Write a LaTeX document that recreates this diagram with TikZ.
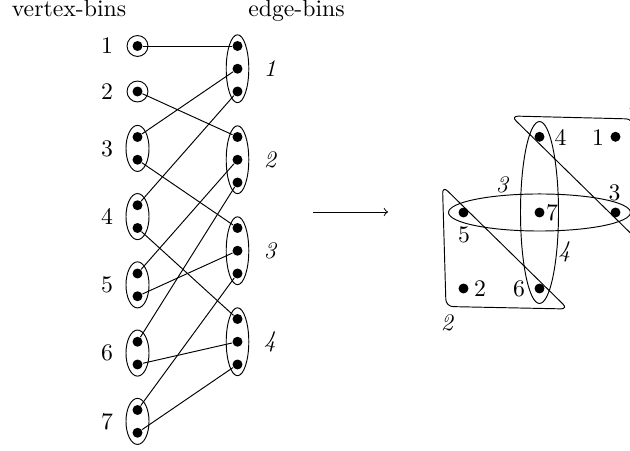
\documentclass[tikz,border=0pt]{standalone}
\usetikzlibrary{shapes.geometric}
\begin{document}
\begin{tikzpicture}[x=0.42105pt,y=-0.42105pt,
  dot/.style={circle,fill,inner sep=0pt,minimum size=4.2pt},
  vone/.style={circle,draw,inner sep=0pt,minimum size=8.8pt},
  vtwo/.style={ellipse,draw,inner sep=0pt,minimum width=9.7pt,minimum height=19.4pt},
  ebin/.style={ellipse,draw,inner sep=0pt,minimum width=9.5pt,minimum height=28.6pt},
  hedgeh/.style={ellipse,draw,inner sep=0pt,minimum width=76.6pt,minimum height=15.6pt},
  hedgev/.style={ellipse,draw,inner sep=0pt,minimum width=16pt,minimum height=76.6pt},
  lab/.style={inner sep=0pt},
  elab/.style={inner sep=0pt,font=\itshape},
  tri/.style={draw,rounded corners=3pt}]
\useasboundingbox (0,0) rectangle (630,451);
\clip (0,0) rectangle (630,451);
% headings
\node[anchor=base,inner sep=0pt] (hv) at (69,16.7) {vertex-bins};
\node[anchor=base,inner sep=0pt] (he) at (296.5,16.7) {edge-bins};
% vertex bins
\node[vone] (V1) at (137.5,46) {};
\node[vone] (V2) at (137.5,91.5) {};
\node[vtwo] (V3) at (137.5,148.4) {};
\node[vtwo] (V4) at (137.5,216.6) {};
\node[vtwo] (V5) at (137.5,284.9) {};
\node[vtwo] (V6) at (137.5,353.1) {};
\node[vtwo] (V7) at (137.5,421.4) {};
% edge bins
\node[ebin] (E1) at (237.5,68.75) {};
\node[ebin] (E2) at (237.5,159.75) {};
\node[ebin] (E3) at (237.5,250.75) {};
\node[ebin] (E4) at (237.5,341.75) {};
% vertex dots
\node[dot] (v1) at (137.5,46) {};
\node[dot] (v2) at (137.5,91.5) {};
\node[dot] (v3a) at (137.5,137) {};
\node[dot] (v3b) at (137.5,159.75) {};
\node[dot] (v4a) at (137.5,205.25) {};
\node[dot] (v4b) at (137.5,228) {};
\node[dot] (v5a) at (137.5,273.5) {};
\node[dot] (v5b) at (137.5,296.25) {};
\node[dot] (v6a) at (137.5,341.75) {};
\node[dot] (v6b) at (137.5,364.5) {};
\node[dot] (v7a) at (137.5,410) {};
\node[dot] (v7b) at (137.5,432.75) {};
% edge dots
\node[dot] (e1a) at (237.5,46) {};
\node[dot] (e1b) at (237.5,68.75) {};
\node[dot] (e1c) at (237.5,91.5) {};
\node[dot] (e2a) at (237.5,137) {};
\node[dot] (e2b) at (237.5,159.75) {};
\node[dot] (e2c) at (237.5,182.5) {};
\node[dot] (e3a) at (237.5,228) {};
\node[dot] (e3b) at (237.5,250.75) {};
\node[dot] (e3c) at (237.5,273.5) {};
\node[dot] (e4a) at (237.5,319) {};
\node[dot] (e4b) at (237.5,341.75) {};
\node[dot] (e4c) at (237.5,364.5) {};
% labels
\node[lab] (n1) at (107,46) {1};
\node[lab] (n2) at (107,91.5) {2};
\node[lab] (n3) at (107,148.4) {3};
\node[lab] (n4) at (107,216.6) {4};
\node[lab] (n5) at (107,284.9) {5};
\node[lab] (n6) at (107,353.1) {6};
\node[lab] (n7) at (107,421.4) {7};
\node[elab] (m1) at (270,68.75) {1};
\node[elab] (m2) at (270,159.75) {2};
\node[elab] (m3) at (270,250.75) {3};
\node[elab] (m4) at (270,341.75) {4};
% connectors
\draw (v1) -- (e1a);
\draw (e1b) -- (v3a);
\draw (v2) -- (e2a);
\draw (e1c) -- (v4a);
\draw (v3b) -- (e3a);
\draw (e2b) -- (v5a);
\draw (e2c) -- (v6a);
\draw (v4b) -- (e4a);
\draw (e3b) -- (v5b);
\draw (e3c) -- (v7a);
\draw (e4b) -- (v6b);
\draw (e4c) -- (v7b);
% arrow
\coordinate (a0) at (313,212);
\coordinate (a1) at (388,212);
\draw[->] (a0) -- (a1);
% right hypergraph
\node[hedgeh] (H3) at (539.5,212.5) {};
\node[hedgev] (H4) at (539.5,212.5) {};
\coordinate (t2a) at (442.5,186);
\coordinate (t2b) at (446,306.5);
\coordinate (t2c) at (568,309);
\draw[tri] (t2a) -- (t2b) -- (t2c) -- cycle;
\coordinate (t1a) at (511,116);
\coordinate (t1b) at (633,119);
\coordinate (t1c) at (636.5,239);
\draw[tri] (t1a) -- (t1b) -- (t1c) -- cycle;
\node[dot] (h1) at (615.5,136.8) {};
\node[dot] (h2) at (463.5,288.5) {};
\node[dot] (h3) at (615.5,212.5) {};
\node[dot] (h4) at (539.5,136.8) {};
\node[dot] (h5) at (463.5,212.5) {};
\node[dot] (h6) at (539.5,288.5) {};
\node[dot] (h7) at (539.5,212.5) {};
\node[lab] (k1) at (598,137.5) {1};
\node[lab] (k2) at (480,289) {2};
\node[lab] (k3) at (614.5,192.5) {3};
\node[lab] (k4) at (560.5,137.5) {4};
\node[lab] (k5) at (464,234.5) {5};
\node[lab] (k6) at (519,289) {6};
\node[lab] (k7) at (552,213) {7};
\node[elab] (g1) at (633,102) {1};
\node[elab] (g2) at (447,323) {2};
\node[elab] (g3) at (502,185) {3};
\node[elab] (g4) at (564.5,252) {4};
\end{tikzpicture}
\end{document}
